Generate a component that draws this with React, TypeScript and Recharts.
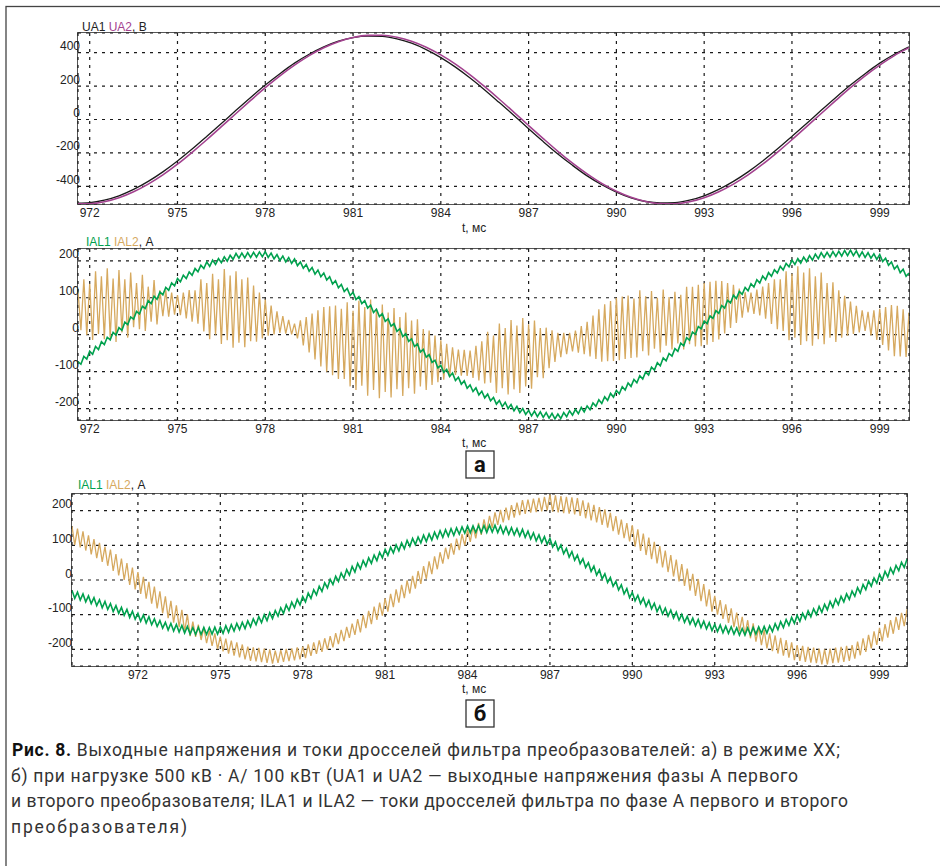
import React from "react";
import { LineChart, Line, XAxis, YAxis, CartesianGrid } from "recharts";

// values (voltages every 0.5 ms, currents every 0.1 ms)
const VOLT_T = [971.6, 972, 972.5, 973, 973.5, 974, 974.5, 975, 975.5, 976, 976.5, 977, 977.5, 978, 978.5, 979, 979.5, 980, 980.5, 981, 981.5, 982, 982.5, 983, 983.5, 984, 984.5, 985, 985.5, 986, 986.5, 987, 987.5, 988, 988.5, 989, 989.5, 990, 990.5, 991, 991.5, 992, 992.5, 993, 993.5, 994, 994.5, 995, 995.5, 996, 996.5, 997, 997.5, 998, 998.5, 999, 999.5, 1000];
const UA1 = [-500, -497, -482, -456, -418, -370, -313, -248, -177, -101, -24, 55, 132, 206, 274, 337, 390, 434, 468, 490, 499, 497, 482, 456, 418, 370, 313, 248, 177, 101, 24, -55, -132, -206, -274, -337, -390, -434, -468, -490, -499, -497, -482, -456, -418, -370, -313, -248, -177, -101, -24, 55, 132, 206, 274, 337, 390, 434];
const UA2 = [-504, -504, -492, -468, -432, -386, -331, -267, -196, -121, -43, 36, 114, 190, 261, 325, 382, 429, 465, 490, 503, 504, 492, 468, 432, 386, 331, 267, 196, 121, 43, -36, -114, -190, -261, -325, -382, -429, -465, -490, -503, -504, -492, -468, -432, -386, -331, -267, -196, -121, -43, 36, 114, 190, 261, 325, 382, 429];

// а) no-load: 971.6 … 1000.0 ms
const START_A = 971.6;
const IAL1_A = [
  -73, -80, -59, -66, -45, -53, -32, -40, -19, -27,
  -7, -14, 6, -1, 19, 12, 34, 27, 48, 42,
  63, 56, 77, 71, 92, 84, 104, 96, 116, 108,
  128, 120, 140, 132, 152, 143, 161, 152, 170, 161,
  179, 170, 188, 179, 197, 185, 202, 190, 206, 195,
  211, 199, 215, 204, 220, 207, 221, 208, 222, 209,
  223, 210, 224, 211, 225, 209, 221, 205, 217, 201,
  213, 197, 209, 193, 205, 187, 197, 180, 190, 172,
  182, 164, 175, 157, 167, 148, 157, 137, 146, 127,
  136, 117, 125, 106, 115, 95, 103, 84, 92, 72,
  80, 60, 69, 49, 57, 36, 43, 23, 30, 9,
  16, -5, 3, -18, -11, -32, -25, -47, -40, -61,
  -54, -75, -69, -90, -83, -102, -94, -113, -104, -124,
  -115, -134, -125, -145, -136, -154, -144, -163, -153, -171,
  -161, -179, -170, -188, -178, -195, -183, -200, -189, -206,
  -194, -211, -200, -216, -205, -220, -207, -222, -209, -224,
  -211, -226, -213, -228, -215, -227, -211, -222, -206, -218,
  -202, -214, -197, -209, -193, -203, -185, -194, -176, -186,
  -168, -178, -159, -169, -151, -160, -141, -150, -131, -140,
  -121, -130, -111, -120, -101, -109, -88, -96, -76, -84,
  -63, -71, -51, -58, -38, -45, -23, -30, -8, -15,
  7, 1, 22, 16, 37, 30, 51, 44, 65, 58,
  79, 72, 93, 86, 107, 98, 117, 109, 128, 119,
  138, 129, 149, 140, 159, 149, 168, 158, 176, 167,
  185, 175, 193, 184, 202, 190, 206, 194, 210, 198,
  214, 202, 218, 206, 222, 209, 223, 210, 225, 212,
  226, 213, 228, 214, 229, 214, 227, 211, 224, 209,
  222, 207, 219, 204, 217, 198, 207, 188, 197, 178,
  187, 168, 177, 158, 167,
];
const IAL2_A = [
  118, 12, 150, -1, 138, -14, 172, 2, 158, -12,
  180, -8, 152, -20, 175, 6, 150, -8, 168, 20,
  140, 15, 162, 10, 130, 35, 148, 28, 120, 50,
  120, 49, 114, 54, 107, 53, 114, 44, 121, 35,
  120, 30, 150, 9, 140, -12, 165, 0, 150, -25,
  178, -15, 160, -35, 172, -22, 150, -34, 155, -18,
  133, -19, 114, -10, 95, -3, 79, 1, 63, 5,
  50, 3, 40, 1, 30, -10, 39, -29, 48, -48,
  57, -67, 66, -86, 75, -100, 77, -110, 79, -120,
  70, -120, 88, -140, 65, -150, 92, -138, 75, -165,
  95, -150, 70, -172, 82, -155, 60, -170, 72, -148,
  48, -166, 60, -145, 38, -160, 42, -140, 15, -150,
  11, -136, -2, -129, -15, -122, -25, -115, -34, -109,
  -40, -111, -41, -112, -43, -117, -30, -124, -18, -132,
  8, -130, -2, -158, 30, -145, 18, -162, 40, -148,
  25, -158, 45, -140, 28, -146, 38, -115, 18, -118,
  19, -91, 12, -74, 5, -61, 5, -53, 5, -45,
  11, -49, 23, -53, 35, -59, 52, -66, 69, -73,
  82, -72, 91, -71, 100, -69, 103, -66, 106, -63,
  98, -62, 120, -45, 104, -56, 118, -38, 100, -48,
  122, -30, 102, -40, 116, -24, 108, -40, 130, -26,
  130, -32, 135, -31, 140, -27, 143, -20, 146, -13,
  145, 3, 140, 18, 135, 32, 125, 46, 115, 60,
  114, 56, 122, 52, 130, 43, 140, 29, 150, 15,
  150, 10, 172, -15, 165, -8, 185, -28, 168, -18,
  180, -30, 158, -12, 168, -26, 140, -8, 142, -20,
  120, -8, 105, -3, 90, 2, 78, 6, 66, 10,
  62, -2, 66, -14, 70, -28, 75, -43, 80, -58,
  78, -59, 69, -60, 60,
];

// б) 500 кВ·А load: 969.6 … 1000.0 ms
const START_B = 969.6;
const IAL1_B = [
  -30, -53, -35, -58, -40, -63, -46, -68, -51, -74,
  -57, -80, -62, -85, -68, -91, -74, -96, -79, -102,
  -85, -108, -90, -113, -96, -119, -101, -124, -106, -129,
  -112, -134, -117, -139, -122, -144, -125, -147, -128, -150,
  -131, -153, -134, -156, -137, -157, -137, -157, -137, -157,
  -137, -156, -136, -156, -136, -154, -132, -151, -129, -147,
  -125, -143, -122, -140, -118, -135, -112, -129, -106, -123,
  -100, -117, -94, -111, -88, -104, -80, -96, -72, -88,
  -64, -80, -56, -72, -48, -63, -38, -53, -28, -43,
  -18, -33, -8, -23, 2, -13, 11, -4, 20, 5,
  30, 14, 39, 23, 48, 32, 56, 40, 64, 48,
  72, 56, 80, 64, 88, 71, 94, 78, 101, 84,
  107, 90, 114, 97, 120, 102, 124, 107, 129, 111,
  133, 115, 138, 120, 142, 123, 145, 126, 148, 129,
  150, 132, 153, 135, 156, 136, 156, 137, 157, 137,
  157, 137, 158, 138, 158, 137, 156, 134, 153, 132,
  151, 130, 148, 127, 146, 123, 141, 118, 136, 113,
  130, 108, 125, 103, 120, 95, 110, 86, 101, 76,
  91, 66, 82, 57, 72, 47, 61, 36, 50, 25,
  40, 14, 29, 3, 18, -7, 7, -18, -4, -29,
  -14, -40, -25, -51, -36, -60, -44, -68, -52, -76,
  -59, -83, -67, -91, -75, -98, -81, -104, -87, -110,
  -93, -116, -99, -122, -105, -127, -110, -132, -114, -137,
  -119, -141, -123, -146, -128, -149, -130, -152, -133, -154,
  -135, -156, -138, -159, -140, -159, -138, -158, -137, -156,
  -135, -154, -134, -153, -132, -149, -126, -143, -120, -137,
  -114, -131, -108, -125, -102, -119, -96, -112, -89, -106,
  -83, -100, -76, -93, -70, -86, -62, -79, -55, -71,
  -47, -63, -40, -56, -32, -47, -22, -38, -13, -28,
  -3, -18, 6, -9, 16, 0, 25, 9, 34, 18,
  42, 27, 51, 36, 60,
];
const IAL2_B = [
  155, 101, 148, 94, 140, 85, 129, 74, 118, 63,
  107, 52, 96, 41, 88, 26, 75, 13, 62, 0,
  49, -14, 36, -27, 23, -40, 9, -54, -5, -68,
  -19, -82, -33, -96, -47, -110, -60, -123, -73, -136,
  -86, -149, -99, -162, -120, -164, -129, -173, -137, -182,
  -146, -190, -154, -199, -163, -206, -169, -212, -175, -218,
  -180, -223, -186, -229, -192, -233, -194, -235, -196, -237,
  -198, -239, -200, -241, -204, -239, -202, -236, -199, -234,
  -197, -232, -194, -229, -192, -225, -186, -219, -180, -213,
  -174, -207, -168, -201, -162, -194, -153, -185, -144, -176,
  -135, -167, -126, -158, -113, -151, -101, -139, -89, -127,
  -77, -115, -65, -103, -53, -91, -40, -78, -27, -65,
  -14, -52, -1, -39, 12, -25, 26, -11, 40, 3,
  54, 17, 68, 31, 80, 47, 93, 60, 106, 73,
  119, 86, 132, 99, 145, 110, 155, 120, 165, 130,
  175, 140, 185, 150, 195, 159, 202, 166, 209, 173,
  216, 180, 223, 187, 230, 191, 232, 194, 235, 196,
  237, 198, 240, 201, 246, 197, 244, 195, 242, 193,
  240, 191, 238, 189, 236, 185, 230, 178, 223, 172,
  217, 166, 210, 159, 204, 151, 194, 141, 184, 131,
  174, 121, 164, 111, 158, 96, 146, 84, 134, 72,
  122, 60, 110, 48, 98, 36, 85, 23, 72, 10,
  59, -4, 46, -17, 33, -31, 18, -46, 3, -61,
  -12, -76, -27, -91, -46, -100, -58, -112, -70, -124,
  -82, -136, -94, -148, -106, -159, -116, -168, -125, -178,
  -135, -188, -144, -197, -154, -205, -160, -212, -167, -218,
  -173, -224, -180, -231, -188, -233, -190, -236, -193, -238,
  -195, -240, -198, -243, -200, -243, -198, -240, -195, -238,
  -193, -236, -190, -233, -188, -227, -178, -217, -168, -207,
  -158, -197, -148, -187, -138, -177, -127, -166, -116, -155,
  -106, -144, -95, -133, -84,
];

const T_TICKS = [972, 975, 978, 981, 984, 987, 990, 993, 996, 999];
const U_TICKS = [-400, -200, 0, 200, 400];
const I_TICKS = [-200, -100, 0, 100, 200];

const voltRows = VOLT_T.map((t, i) => ({ t, a: UA1[i], b: UA2[i] }));
const sampleRows = (start: number, a: number[], b: number[]) =>
  a.map((v, i) => ({ t: Math.round((start + i * 0.1) * 10) / 10, a: v, b: b[i] }));
const rowsA = sampleRows(START_A, IAL1_A, IAL2_A);
const rowsB = sampleRows(START_B, IAL1_B, IAL2_B);

const SANS = "'Liberation Sans', Arial, sans-serif";
const GREEN = "#00a14e";
const TAN = "#d6a95f";
const PURPLE = "#a3428f";
const Y_AXIS_W = 40;
const X_AXIS_H = 20;

function XTick({ x, y, payload }: any) {
  return (
    <text x={x} y={y + 12.5} textAnchor="middle" fontSize={12} fill="#222" fontFamily={SANS}>
      {payload.value}
    </text>
  );
}

const makeYTick = (dx: number) => ({ x, y, payload }: any) => (
  <text x={x + dx} y={y - 2.5} textAnchor="end" fontSize={12} fill="#222" fontFamily={SANS}>
    {payload.value}
  </text>
);

function Panel({ top, height, left, right, plotTop, plotBottom, data, xDomain, yDomain, yTicks, yDx, children }: any) {
  const w = 940;
  return (
    <div style={{ position: "absolute", left: 0, top, width: w, height }}>
      <div
        style={{
          position: "absolute",
          left: left - 1,
          top: plotTop - 1,
          width: w - left - right + 2,
          height: height - plotTop - plotBottom + 2,
          border: "1.5px solid #555",
          boxSizing: "border-box",
        }}
      />
      <LineChart
        width={w}
        height={height}
        data={data}
        margin={{ top: plotTop, right, bottom: plotBottom - X_AXIS_H, left: left - Y_AXIS_W }}
      >
        <CartesianGrid stroke="#1a1a1a" strokeDasharray="3 5" strokeWidth={1.2} />
        <XAxis
          type="number"
          dataKey="t"
          domain={xDomain}
          ticks={T_TICKS}
          interval={0}
          allowDataOverflow
          height={X_AXIS_H}
          tickSize={0}
          tickMargin={0}
          axisLine={false}
          tickLine={false}
          tick={<XTick />}
        />
        <YAxis
          type="number"
          domain={yDomain}
          ticks={yTicks}
          interval={0}
          allowDataOverflow
          width={Y_AXIS_W}
          tickSize={0}
          tickMargin={0}
          axisLine={false}
          tickLine={false}
          tick={makeYTick(yDx)}
        />
        {children}
      </LineChart>
    </div>
  );
}

const captionStyle = { fontFamily: "Roboto, 'Noto Sans', sans-serif", fontSize: 17.5, fill: "#333" };

export default function App() {
  return (
    <div style={{ position: "relative", width: 940, height: 866, overflow: "hidden", background: "#fff" }}>
      <style>{`body{margin:0}`}</style>

      <Panel top={0} height={240} left={78} right={31} plotTop={33} plotBottom={36}
        data={voltRows} xDomain={[971.6, 1000]} yDomain={[-505, 517]} yTicks={U_TICKS} yDx={2}>
        <Line dataKey="a" type="monotone" stroke="#1a1a1a" strokeWidth={1.3} dot={false} isAnimationActive={false} />
        <Line dataKey="b" type="monotone" stroke={PURPLE} strokeWidth={1.6} dot={false} isAnimationActive={false} />
      </Panel>

      <Panel top={240} height={220} left={78} right={31} plotTop={9} plotBottom={40}
        data={rowsA} xDomain={[971.6, 1000]} yDomain={[-231, 232]} yTicks={I_TICKS} yDx={1}>
        <Line dataKey="b" type="linear" stroke={TAN} strokeWidth={1.3} dot={false} isAnimationActive={false} />
        <Line dataKey="a" type="linear" stroke={GREEN} strokeWidth={1.6} dot={false} isAnimationActive={false} />
      </Panel>

      <Panel top={470} height={220} left={72} right={33} plotTop={24} plotBottom={24}
        data={rowsB} xDomain={[969.6, 1000]} yDomain={[-248, 248]} yTicks={I_TICKS} yDx={0}>
        <Line dataKey="b" type="linear" stroke={TAN} strokeWidth={1.3} dot={false} isAnimationActive={false} />
        <Line dataKey="a" type="linear" stroke={GREEN} strokeWidth={1.6} dot={false} isAnimationActive={false} />
      </Panel>

      <svg width={940} height={866} style={{ position: "absolute", left: 0, top: 0, pointerEvents: "none" }}>
        <rect x={6} y={6.5} width={1000} height={1000} fill="none" stroke="#444" strokeWidth={1.3} />

        <g fontFamily={SANS} fontSize={12} fill="#222">
          <text x={82} y={30.7}>
            UA1 <tspan fill={PURPLE}>UA2</tspan>, В
          </text>
          <text x={86} y={245.7}>
            <tspan fill={GREEN}>IAL1</tspan> <tspan fill={TAN}>IAL2</tspan>, А
          </text>
          <text x={78} y={489.3}>
            <tspan fill={GREEN}>IAL1</tspan> <tspan fill={TAN}>IAL2</tspan>, А
          </text>
          <text x={462} y={232}>t, мс</text>
          <text x={462} y={446.5}>t, мс</text>
          <text x={462} y={693}>t, мс</text>
        </g>

        <rect x={466} y={451} width={28} height={27} fill="#fff" stroke="#333" strokeWidth={1.3} />
        <text x={480} y={471.5} textAnchor="middle" fontFamily="Roboto, sans-serif" fontWeight={700} fontSize={22} fill="#111">а</text>
        <rect x={466} y={700} width={28} height={27} fill="#fff" stroke="#333" strokeWidth={1.3} />
        <text x={480} y={720.5} textAnchor="middle" fontFamily="Roboto, sans-serif" fontWeight={700} fontSize={22} fill="#111">б</text>

        <g style={captionStyle as any}>
          <text x={12} y={756} textLength={828} lengthAdjust="spacing">
            <tspan fontWeight={700} fill="#111">Рис. 8.</tspan> Выходные напряжения и токи дросселей фильтра преобразователей: а) в режиме ХХ;
          </text>
          <text x={11} y={781.7} textLength={787} lengthAdjust="spacing">
            б) при нагрузке 500 кВ · А/ 100 кВт (UA1 и UA2 — выходные напряжения фазы А первого
          </text>
          <text x={11} y={807.3} textLength={837} lengthAdjust="spacing">
            и второго преобразователя; ILA1 и ILA2 — токи дросселей фильтра по фазе А первого и второго
          </text>
          <text x={11} y={833} textLength={176} lengthAdjust="spacing">
            преобразователя)
          </text>
        </g>
      </svg>
    </div>
  );
}
